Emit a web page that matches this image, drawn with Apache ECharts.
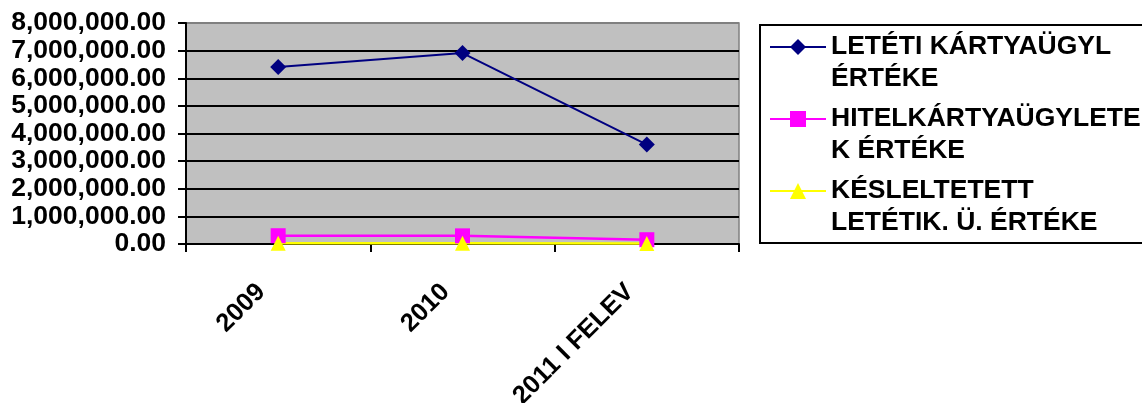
<!DOCTYPE html>
<html>
<head>
<meta charset="utf-8">
<script src="https://cdn.jsdelivr.net/npm/echarts@6/dist/echarts.min.js"></script>
<style>
html,body{margin:0;padding:0;background:#fff;}
#chart{width:1142px;height:403px;}
</style>
</head>
<body>
<div id="chart"></div>
<script>
var categories = ['2009', '2010', '2011 I FELEV'];
var seriesNames = ['LETÉTI KÁRTYAÜGYL\nÉRTÉKE', 'HITELKÁRTYAÜGYLETE\nK ÉRTÉKE', 'KÉSLELTETETT\nLETÉTIK. Ü. ÉRTÉKE'];
var letetiValues = [6410000, 6910000, 3600000];
var hitelValues = [300000, 295000, 155000];
var kesleltetettValues = [30000, 25000, 15000];
var yMin = 0, yMax = 8000000, yInterval = 1000000;

function fmt(v) {
  var s = Math.round(v).toString();
  var out = '';
  while (s.length > 3) { out = ',' + s.slice(-3) + out; s = s.slice(0, -3); }
  return s + out + '.00';
}

var font = '"Liberation Sans", Arial, sans-serif';
var chart = echarts.init(document.getElementById('chart'), null, {renderer: 'canvas'});
var gridColors = [];
for (var i = 0; i < 8; i++) gridColors.push('#000');
gridColors.push('#808080');

chart.setOption({
  animation: false,
  backgroundColor: '#fff',
  grid: {left: 186, right: 403, top: 23, bottom: 159, show: true, containLabel: false, outerBoundsMode: 'none',
         backgroundColor: '#C0C0C0', borderColor: '#808080', borderWidth: 1.5},
  xAxis: {
    type: 'category',
    data: categories,
    boundaryGap: true,
    axisLine: {lineStyle: {color: '#000', width: 2}},
    axisTick: {show: true, length: 8, lineStyle: {color: '#000', width: 2}},
    axisLabel: {rotate: 45, margin: 27, padding: [0, 24, 0, 0], color: '#000', fontFamily: font, fontWeight: 'bold', fontSize: 25.5, interval: 0, hideOverlap: false},
    splitLine: {show: false}
  },
  yAxis: {
    type: 'value',
    min: yMin, max: yMax, interval: yInterval,
    axisLine: {show: true, lineStyle: {color: '#000', width: 2}},
    axisTick: {show: true, length: 8, lineStyle: {color: '#000', width: 2}},
    axisLabel: {margin: 20, color: '#000', fontFamily: font, fontWeight: 'bold', fontSize: 26.5, formatter: fmt,
                showMinLabel: true, showMaxLabel: true, hideOverlap: false},
    splitLine: {show: true, lineStyle: {color: gridColors, width: 1.8}}
  },
  legend: {
    orient: 'vertical',
    left: 760, top: 25,
    padding: [-26, 80, 4, 9],
    itemGap: -24,
    itemWidth: 56, itemHeight: 20,
    borderColor: '#000', borderWidth: 2,
    backgroundColor: '#fff',
    selectedMode: false,
    data: seriesNames,
    formatter: function (name) { return ' \n' + name; },
    textStyle: {color: '#000', fontFamily: font, fontWeight: 'bold', fontSize: 26.5, lineHeight: 32}
  },
  series: [
    {name: seriesNames[0], type: 'line', data: letetiValues, symbol: 'diamond', symbolSize: 16,
     lineStyle: {color: '#000080', width: 2}, itemStyle: {color: '#000080'}},
    {name: seriesNames[1], type: 'line', data: hitelValues, symbol: 'rect', symbolSize: 15,
     lineStyle: {color: '#FF00FF', width: 2.5}, itemStyle: {color: '#FF00FF'}},
    {name: seriesNames[2], type: 'line', data: kesleltetettValues, symbol: 'triangle', symbolSize: 15,
     lineStyle: {color: '#FFFF00', width: 2.5}, itemStyle: {color: '#FFFF00'}}
  ]
});
</script>
</body>
</html>
